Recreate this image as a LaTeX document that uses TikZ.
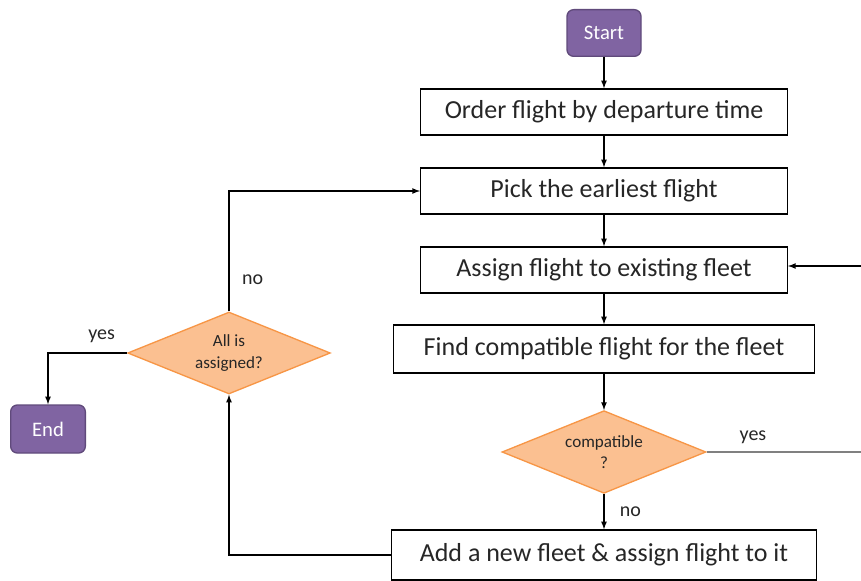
\documentclass[tikz,border=0pt]{standalone}
\usepackage{fontspec}
\setmainfont{Carlito}
\usetikzlibrary{shapes.geometric}
\definecolor{termfill}{RGB}{128,100,162}
\definecolor{termline}{RGB}{96,74,123}
\definecolor{decfill}{RGB}{251,192,145}
\definecolor{decline}{RGB}{247,150,70}
\definecolor{txt}{RGB}{38,38,38}
\tikzset{
  procbox/.style={draw, rectangle, line width=1pt, text=txt, minimum width=275pt, minimum height=34.5pt, font=\fontsize{19.5}{22}\selectfont},
  termbox/.style={draw=termline, fill=termfill, rounded corners=5pt, line width=1pt, text=white, minimum width=55.5pt, minimum height=35pt, font=\fontsize{15.5}{18}\selectfont},
  decbox/.style={draw=decline, fill=decfill, diamond, aspect=2.5, line width=1pt, text=txt, minimum width=153pt, minimum height=62pt, inner sep=0pt, align=center, font=\fontsize{12.8}{16}\selectfont},
  lbl/.style={text=txt, font=\fontsize{15}{18}\selectfont}
}
\begin{document}
\begin{tikzpicture}[
                            x=0.75pt, y=0.75pt,
                            node distance=59.25pt,
                            >=latex
                            ]
            \useasboundingbox (0,0) rectangle (861,-581);

            \node [termbox] at (604,-33) (start) {Start};
            \node [procbox, below of = start] (order) {Order flight by departure time};
            \node [procbox, below of = order] (pick) {Pick the earliest flight};
            \node [procbox, below of = pick] (assign) {Assign flight to existing fleet};
            \node [procbox, below of = assign, minimum width=316pt, minimum height=36pt] (find) {Find compatible flight for the fleet};
            \node [decbox, below of = find, node distance=77.25pt] (comp) {compatible\\?};
            \node [procbox, below of = comp, node distance=77.25pt, minimum width=319pt, minimum height=37.5pt] (add) {Add a new fleet \& assign flight to it};
            \node [decbox, minimum width=152pt, minimum height=61.5pt] at (229,-353) (alld) {All is\\assigned?};
            \node [termbox, minimum width=56pt, minimum height=36pt] at (48,-429) (end) {End};
            \coordinate (yesout) at (861,-452);
            \coordinate (yesin) at (861,-266);

            \draw[->, line width=1pt] (start) -- (order);
            \draw[->, line width=1pt] (order) -- (pick);
            \draw[->, line width=1pt] (pick) -- (assign);
            \draw[->, line width=1pt] (assign) -- (find);
            \draw[->, line width=1pt] (find) -- (comp);
            \draw[->, line width=1pt] (comp) -- node[lbl, right=8pt]{no} (add);
            \draw[draw=gray, line width=1.5pt] (comp.east) -- node[lbl, above=2pt, pos=0.3]{yes} (yesout);
            \draw[->, line width=1pt] (yesin) -- (yesin -| assign.east);
            \draw[->, line width=1pt] (add.west) -| (alld.south);
            \draw[->, line width=1pt] (alld.north) |- node[lbl, right=6pt, pos=0.13]{no} (pick.west);
            \draw[->, line width=1pt] (alld.west) -| node[lbl, above=4pt, pos=0.16]{yes} (end.north);
        \end{tikzpicture}
\end{document}
